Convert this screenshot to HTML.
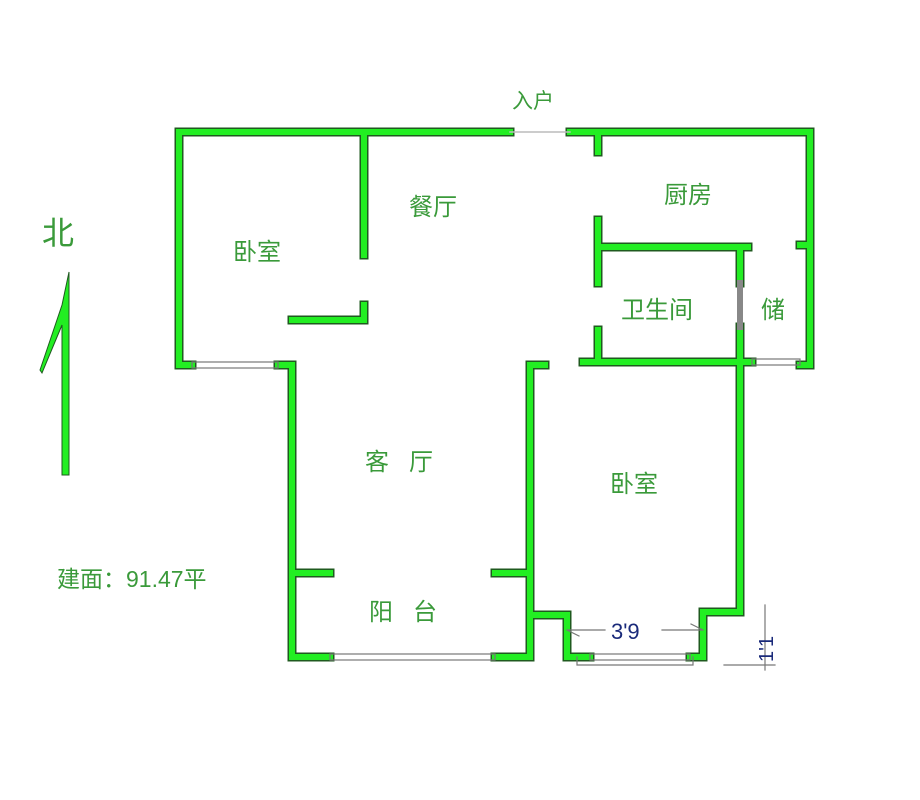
<!DOCTYPE html>
<html><head><meta charset="utf-8"><style>
html,body{margin:0;padding:0;background:#fff;width:920px;height:800px;overflow:hidden}
svg text{font-family:"Liberation Sans","Noto Sans CJK SC",sans-serif;fill:#3a9a3a}
</style></head><body>
<svg width="920" height="800" viewBox="0 0 920 800" xmlns="http://www.w3.org/2000/svg">
<g fill="none" stroke-linecap="square">
<g id="w" stroke="#1f5a1f" stroke-width="9">
<path d="M179 365V132H510 M570 132H810V365H800 M192 365H179 M278 365H292V657H330 M495 657H530V365H545"/>
<path d="M364 132V255 M364 305V320H292 M292 573H330 M495 573H530"/>
<path d="M598 132V152 M598 220V283 M598 247H748 M598 330V362 M583 362H752 M800 245H810"/>
<path d="M740 247V283 M740 327V612H703V657H690 M590 657H567V615H530"/>
</g>
<g stroke="#22ee22" stroke-width="6">
<path d="M179 365V132H510 M570 132H810V365H800 M192 365H179 M278 365H292V657H330 M495 657H530V365H545"/>
<path d="M364 132V255 M364 305V320H292 M292 573H330 M495 573H530"/>
<path d="M598 132V152 M598 220V283 M598 247H748 M598 330V362 M583 362H752 M800 245H810"/>
<path d="M740 247V283 M740 327V612H703V657H690 M590 657H567V615H530"/>
</g>
<path d="M740 283V327" stroke="#888" stroke-width="6"/>
<path d="M510 132H570" stroke="#bbb" stroke-width="1.5"/>
<g stroke="#777" stroke-width="1.2">
<rect x="192" y="362" width="86" height="6"/>
<rect x="752" y="359" width="48" height="6"/>
<rect x="330" y="654" width="165" height="6"/>
<rect x="590" y="654" width="100" height="6"/>
<path d="M577 657V665H693V657"/>
<path d="M567 630H605 M662 630H703 M567 630l12 6 M703 630l-12-6"/>
<path d="M724 665H775 M765 605V670"/>
</g>
</g>
<polygon points="69,272 69,475 62,475 62,325 42,373 40,370 62,305" fill="#22ee22" stroke="#1f5a1f" stroke-width="1"/>
<text x="42" y="244" font-size="32">北</text>
<text x="512" y="108" font-size="21">入户</text>
<text x="409" y="215" font-size="24">餐厅</text>
<text x="664" y="203" font-size="24">厨房</text>
<text x="233" y="260" font-size="24">卧室</text>
<text x="621" y="318" font-size="24">卫生间</text>
<text x="761" y="318" font-size="24">储</text>
<text x="365" y="470" font-size="24" xml:space="preserve">客   厅</text>
<text x="610" y="492" font-size="24">卧室</text>
<text x="369" y="620" font-size="24" xml:space="preserve">阳   台</text>
<text x="57" y="587" font-size="23">建面：91.47平</text>
<text x="611" y="639" font-size="22" style="fill:#1a2a7a">3'9</text>
<text x="0" y="0" font-size="20" style="fill:#1a2a7a" transform="translate(773,662) rotate(-90)">1'1</text>
</svg>
</body></html>
